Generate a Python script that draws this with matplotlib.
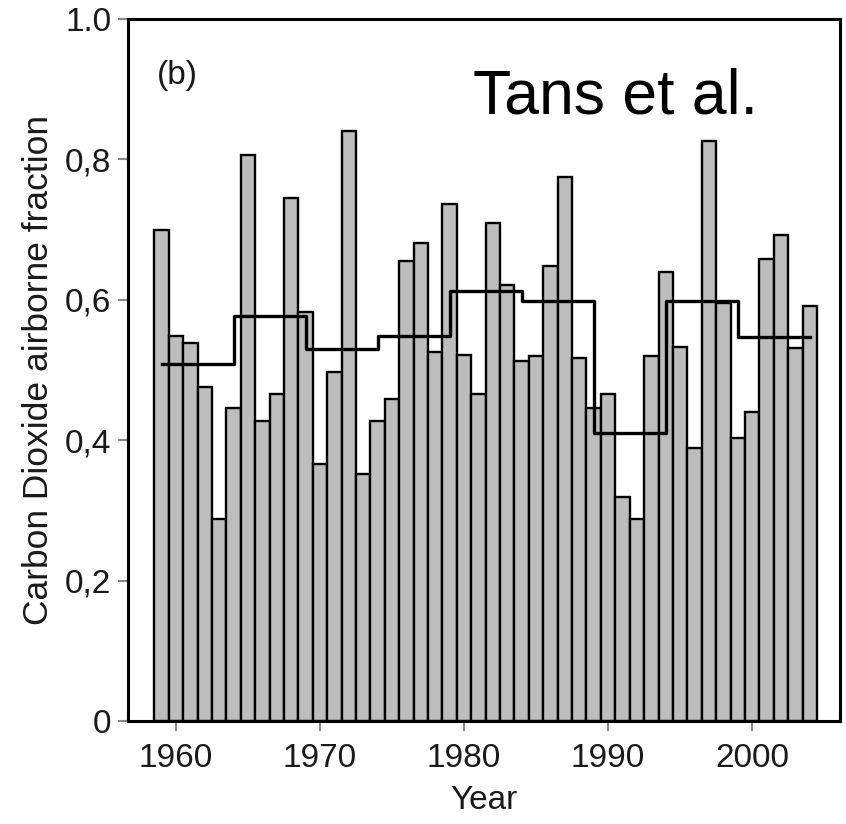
import matplotlib
matplotlib.use("Agg")
import matplotlib.pyplot as plt
import numpy as np

plt.rcParams['font.family'] = ['Liberation Sans', 'DejaVu Sans']

# Annual airborne fraction of CO2
years = list(range(1959, 2005))
fraction = [
    0.699, 0.548, 0.538, 0.476, 0.288, 0.446, 0.806, 0.427, 0.466, 0.745,
    0.583, 0.366, 0.497, 0.840, 0.352, 0.427, 0.459, 0.655, 0.681, 0.526,
    0.736, 0.521, 0.466, 0.709, 0.621, 0.513, 0.520, 0.648, 0.775, 0.517,
    0.446, 0.466, 0.319, 0.288, 0.520, 0.640, 0.533, 0.389, 0.826, 0.595,
    0.403, 0.440, 0.658, 0.692, 0.531, 0.591,
]

# Five-year means (step line)
period_starts = [1959, 1964, 1969, 1974, 1979, 1984, 1989, 1994, 1999, 2004]
period_means = [0.509, 0.577, 0.530, 0.548, 0.612, 0.598, 0.410, 0.598, 0.547]

x_ticks = [1960, 1970, 1980, 1990, 2000]
y_ticks = [0, 0.2, 0.4, 0.6, 0.8, 1.0]
y_tick_labels = ['0', '0,2', '0,4', '0,6', '0,8', '1.0']

fig = plt.figure(figsize=(8.46, 8.24), dpi=100)
ax = fig.add_axes([0.1513, 0.125, 0.8416, 0.852])

ax.bar(years, fraction, width=1.0, color='#bdbdbd', edgecolor='black',
       linewidth=1.7, zorder=2)
ax.step(period_starts, period_means + [period_means[-1]], where='post',
        color='black', linewidth=2.4, zorder=3)

ax.set_xlim(1956.67, 2006.1)
ax.set_ylim(0, 1.0)
ax.set_xticks(x_ticks)
ax.set_yticks(y_ticks)
ax.set_yticklabels(y_tick_labels)

for s in ax.spines.values():
    s.set_linewidth(2.2)
ax.tick_params(direction='out', length=7, width=1.5, color='#888888',
               labelsize=24, labelcolor='#1a1a1a', pad=5)
ax.tick_params(axis='x', pad=9)

ax.set_xlabel('Year', fontsize=24, color='#1a1a1a', labelpad=8)
ax.set_ylabel('Carbon Dioxide airborne fraction', fontsize=25.5,
              color='#1a1a1a')
ax.yaxis.set_label_coords(-0.102, 0.5)

ax.text(0.041, 0.919, '(b)', transform=ax.transAxes, fontsize=24,
        color='#1a1a1a', va='center', ha='left')
ax.text(0.484, 0.865, 'Tans et al.', transform=ax.transAxes, fontsize=45,
        color='black', va='baseline', ha='left')

fig.savefig('out.png', dpi=100)
